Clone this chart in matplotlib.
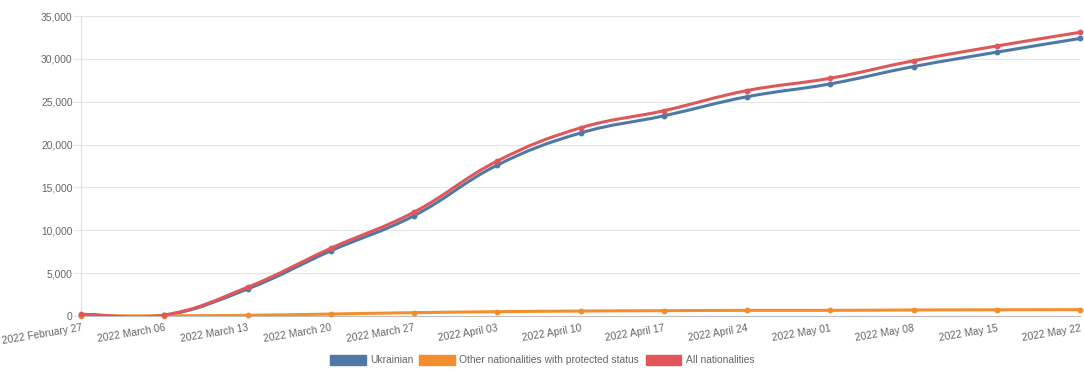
import matplotlib
matplotlib.use("Agg")
import matplotlib.pyplot as plt
from matplotlib.path import Path
from matplotlib.patches import PathPatch, Patch
from matplotlib.ticker import FuncFormatter, MultipleLocator
import numpy as np

dates = ["2022 February 27", "2022 March 06", "2022 March 13", "2022 March 20",
         "2022 March 27", "2022 April 03", "2022 April 10", "2022 April 17",
         "2022 April 24", "2022 May 01", "2022 May 08", "2022 May 15", "2022 May 22"]
ukrainian = [150, 80, 3150, 7600, 11700, 17600, 21350, 23350, 25580, 27080, 29100, 30780, 32380]
other = [20, 30, 80, 230, 390, 500, 580, 620, 660, 660, 700, 720, 740]
all_nat = [200, 120, 3350, 7900, 12120, 18080, 21950, 23950, 26300, 27740, 29780, 31500, 33100]

series = [("Ukrainian", ukrainian, "#4e79a7"),
          ("Other nationalities with protected status", other, "#f28e2b"),
          ("All nationalities", all_nat, "#e15759")]

W, H = 1084, 392
fig = plt.figure(figsize=(W / 100, H / 100), dpi=100)
L, R, T, B = 81, 1080, 16, 316
ax = fig.add_axes([L / W, 1 - B / H, (R - L) / W, (B - T) / H])

x = np.arange(len(dates))
ymax = 35000
ax.set_xlim(0, len(dates) - 1)
ax.set_ylim(0, ymax)

sx = (R - L) / (len(dates) - 1)
sy = (B - T) / ymax


def spline_path(xs, ys, t=0.4):
    px = np.array(xs, float) * sx
    py = np.array(ys, float) * sy
    n = len(px)
    cps = []
    for i in range(n):
        prev = (px[max(i - 1, 0)], py[max(i - 1, 0)])
        cur = (px[i], py[i])
        nxt = (px[min(i + 1, n - 1)], py[min(i + 1, n - 1)])
        d01 = np.hypot(cur[0] - prev[0], cur[1] - prev[1])
        d12 = np.hypot(nxt[0] - cur[0], nxt[1] - cur[1])
        s = d01 + d12
        s01 = d01 / s if s else 0
        s12 = d12 / s if s else 0
        fa, fb = t * s01, t * s12
        cpp = (cur[0] - fa * (nxt[0] - prev[0]), cur[1] - fa * (nxt[1] - prev[1]))
        cpn = (cur[0] + fb * (nxt[0] - prev[0]), cur[1] + fb * (nxt[1] - prev[1]))
        cps.append((cpp, cpn))
    verts = [(px[0], py[0])]
    codes = [Path.MOVETO]
    for i in range(1, n):
        verts += [cps[i - 1][1], cps[i][0], (px[i], py[i])]
        codes += [Path.CURVE4] * 3
    verts = [(vx / sx, vy / sy) for vx, vy in verts]
    return Path(verts, codes)


handles = []
for name, vals, col in series:
    p = PathPatch(spline_path(x, vals), facecolor="none", edgecolor=col, lw=2.2,
                  zorder=3, capstyle="round", joinstyle="round")
    ax.add_patch(p)
    ax.plot(x, vals, "o", color=col, ms=3.2, zorder=4, clip_on=False)
    handles.append(Patch(facecolor=col, edgecolor=col, label=name))

FS = 7.4
ax.yaxis.set_major_locator(MultipleLocator(5000))
ax.yaxis.set_major_formatter(FuncFormatter(lambda v, p: f"{int(v):,}"))
ax.set_xticks(x)
ax.set_xticklabels(dates, rotation=9.5, ha="right", va="top", rotation_mode="anchor")

ax.grid(axis="y", color="#e6e6e6", lw=0.8)
ax.set_axisbelow(True)
for s in ["top", "right"]:
    ax.spines[s].set_visible(False)
ax.spines["left"].set_color("#e0e0e0")
ax.spines["bottom"].set_color("#bdbdbd")
ax.tick_params(axis="y", length=5.5, width=0.8, color="#e6e6e6", labelsize=FS, pad=0.5)
ax.tick_params(axis="x", length=0, labelsize=FS, pad=5)
for lab in ax.get_xticklabels() + ax.get_yticklabels():
    lab.set_color("#666666")
    lab.set_fontfamily("Liberation Sans")

leg = fig.legend(handles=handles, loc="center", bbox_to_anchor=(0.5, 1 - 360 / H),
                 ncol=3, frameon=False, handlelength=3.5, handleheight=1.25,
                 handletextpad=0.4, columnspacing=0.6,
                 prop={"family": "Liberation Sans", "size": FS})
for t in leg.get_texts():
    t.set_color("#666666")

fig.savefig("out.png", dpi=100)
